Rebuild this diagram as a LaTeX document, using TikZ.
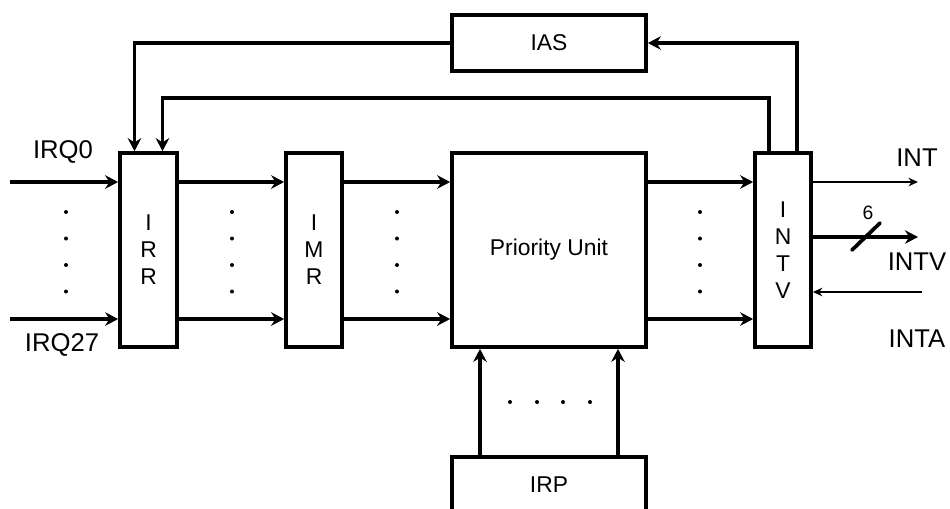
\documentclass[tikz,border=0pt]{standalone}
\usepackage{fontspec}
\setmainfont{Liberation Sans}
\usetikzlibrary{arrows.meta}

\begin{document}
\begin{tikzpicture}[x=0.2mm, y=-0.2mm,
  box/.style={draw, line width=2.1pt, inner sep=0pt, align=center, font=\fontsize{13}{15.3}\selectfont},
  busline/.style={line width=2.1pt, -{Stealth[length=2.6mm, width=2.7mm]}},
  wireline/.style={line width=0.9pt, -{Stealth[length=1.9mm, width=1.7mm]}},
  lbl/.style={font=\fontsize{14.6}{17}\selectfont}]
  \useasboundingbox (0,0) rectangle (950,508);

  % blocks
  \node[box, minimum width=11.4mm, minimum height=38.8mm] (irr) at (148.5,250) {I\\R\\R};
  \node[box, minimum width=11.2mm, minimum height=38.8mm] (imr) at (314,250) {I\\M\\R};
  \node[box, minimum width=38.8mm, minimum height=38.8mm] (pu) at (549,250) {Priority Unit};
  \node[box, minimum width=11.2mm, minimum height=38.8mm] (intv) at (783,250) {I\\N\\T\\V};
  \node[box, minimum width=38.8mm, minimum height=11.2mm] (ias) at (549,43) {IAS};
  \node[box, minimum width=38.8mm, minimum height=11.2mm] (irp) at (549,485) {IRP};

  % request lines
  \coordinate (in0) at (10,182);
  \coordinate (in27) at (10,319);
  \draw[busline] (in0) -- (in0 -| irr.west);
  \draw[busline] (in27) -- (in27 -| irr.west);
  \draw[busline] (irr.east |- in0) -- (imr.west |- in0);
  \draw[busline] (irr.east |- in27) -- (imr.west |- in27);
  \draw[busline] (imr.east |- in0) -- (pu.west |- in0);
  \draw[busline] (imr.east |- in27) -- (pu.west |- in27);
  \draw[busline] (pu.east |- in0) -- (intv.west |- in0);
  \draw[busline] (pu.east |- in27) -- (intv.west |- in27);
  \node[lbl] (irq0) at (63,152) {IRQ0};
  \node[lbl] (irq27) at (62,345) {IRQ27};

  % dots
  \fill (66,212) circle (0.4mm) (66,238.5) circle (0.4mm) (66,265) circle (0.4mm) (66,291.5) circle (0.4mm);
  \fill (232,212) circle (0.4mm) (232,238.5) circle (0.4mm) (232,265) circle (0.4mm) (232,291.5) circle (0.4mm);
  \fill (397,212) circle (0.4mm) (397,238.5) circle (0.4mm) (397,265) circle (0.4mm) (397,291.5) circle (0.4mm);
  \fill (700,212) circle (0.4mm) (700,238.5) circle (0.4mm) (700,265) circle (0.4mm) (700,291.5) circle (0.4mm);
  \fill (510,402) circle (0.4mm) (537,402) circle (0.4mm) (563,402) circle (0.4mm) (590,402) circle (0.4mm);

  % priority inputs
  \draw[busline] ([xshift=-13.8mm]irp.north) -- ([xshift=-13.8mm]pu.south);
  \draw[busline] ([xshift=13.8mm]irp.north) -- ([xshift=13.8mm]pu.south);

  % feedback
  \coordinate (irrA) at ([xshift=-2.8mm]irr.north);
  \coordinate (irrB) at ([xshift=2.8mm]irr.north);
  \coordinate (intvA) at ([xshift=-2.8mm]intv.north);
  \coordinate (intvB) at ([xshift=2.8mm]intv.north);
  \draw[busline] (intvB) |- (ias.east);
  \draw[busline] (ias.west) -| (irrA);
  \draw[busline] (intvA) -- (intvA |- 0,98) -| (irrB);

  % outputs
  \coordinate (intout) at (918,182);
  \coordinate (vecout) at (918,237);
  \coordinate (ackin) at (922,292);
  \draw[wireline] (intv.east |- intout) -- (intout);
  \draw[busline] (intv.east |- vecout) -- (vecout);
  \draw[line width=2.1pt, line cap=round] (852,250) -- (880,223);
  \node[font=\fontsize{11}{13}\selectfont] (width) at (868,213) {6};
  \draw[wireline] (ackin) -- (intv.east |- ackin);
  \node[lbl] (int) at (917,158) {INT};
  \node[lbl] (intvl) at (917,262) {INTV};
  \node[lbl] (inta) at (917,339) {INTA};
\end{tikzpicture}
\end{document}
